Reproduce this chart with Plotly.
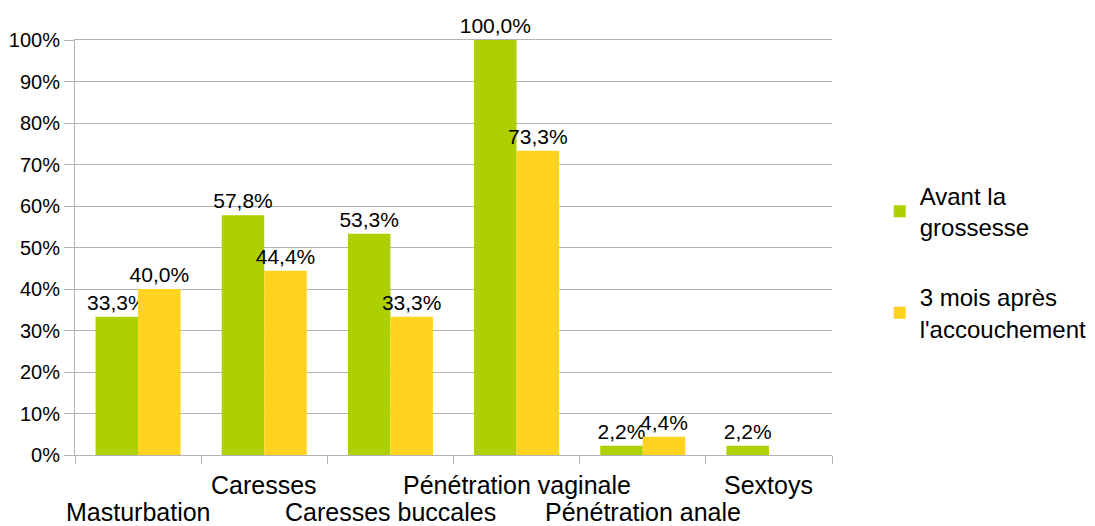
import plotly.graph_objects as go

categories = ["Masturbation", "Caresses", "Caresses buccales",
              "Pénétration vaginale", "Pénétration anale", "Sextoys"]
avant = [0.333, 0.578, 0.533, 1.000, 0.022, 0.022]
apres = [0.400, 0.444, 0.333, 0.733, 0.044, 0.0]
series_names = ["Avant la<br>grossesse", "3 mois après<br>l'accouchement"]
colors = ["#aecf00", "#ffd320"]

FONT = "Liberation Sans, Arial, sans-serif"


def fmt(v):
    return "" if v == 0 else f"{v*100:.1f}%".replace(".", ",")


fig = go.Figure()
for i, (vals, name) in enumerate(zip([avant, apres], series_names)):
    fig.add_trace(go.Bar(
        x=categories, y=vals, name=name,
        marker=dict(color=colors[i], line=dict(width=0)),
        text=[fmt(v) for v in vals],
        textposition="outside",
        textfont=dict(family=FONT, size=21, color="#000000"),
        constraintext="none",
        cliponaxis=False,
        legendgroup=f"g{i}",
    ))

annotations = []
for j, c in enumerate(categories):
    annotations.append(dict(
        x=c, xref="x", y=0, yref="paper",
        text=c, showarrow=False, yanchor="middle",
        yshift=-57 if j % 2 == 0 else -30,
        font=dict(family=FONT, size=25, color="#000000"),
    ))

fig.update_layout(
    width=1095, height=526,
    margin=dict(l=67, r=271, t=32, b=79, autoexpand=False),
    paper_bgcolor="white", plot_bgcolor="white",
    barmode="group", bargap=0.326, bargroupgap=0,
    font=dict(family=FONT, size=20, color="#000000"),
    showlegend=True,
    legend=dict(x=1.063, xanchor="left", y=0.465, yanchor="middle",
                font=dict(family=FONT, size=24, color="#000000"),
                tracegroupgap=36, bgcolor="rgba(0,0,0,0)"),
    annotations=annotations,
)
fig.update_xaxes(
    type="category", showticklabels=False, automargin=False,
    range=[-0.5, len(categories) - 0.5],
    tickson="boundaries", ticks="outside", ticklen=8, tickcolor="#b3b3b3",
    showline=True, linecolor="#b3b3b3", mirror=True, linewidth=1,
    showgrid=False, zeroline=False,
)
fig.update_yaxes(
    range=[0, 1], dtick=0.1, tickformat=".0%", automargin=False,
    ticks="outside", ticklen=10, tickcolor="#b3b3b3",
    showgrid=True, gridcolor="#b3b3b3", gridwidth=1,
    showline=True, linecolor="#b3b3b3", zeroline=False,
    tickfont=dict(family=FONT, size=20, color="#000000"),
)

fig.write_html("out.html")
